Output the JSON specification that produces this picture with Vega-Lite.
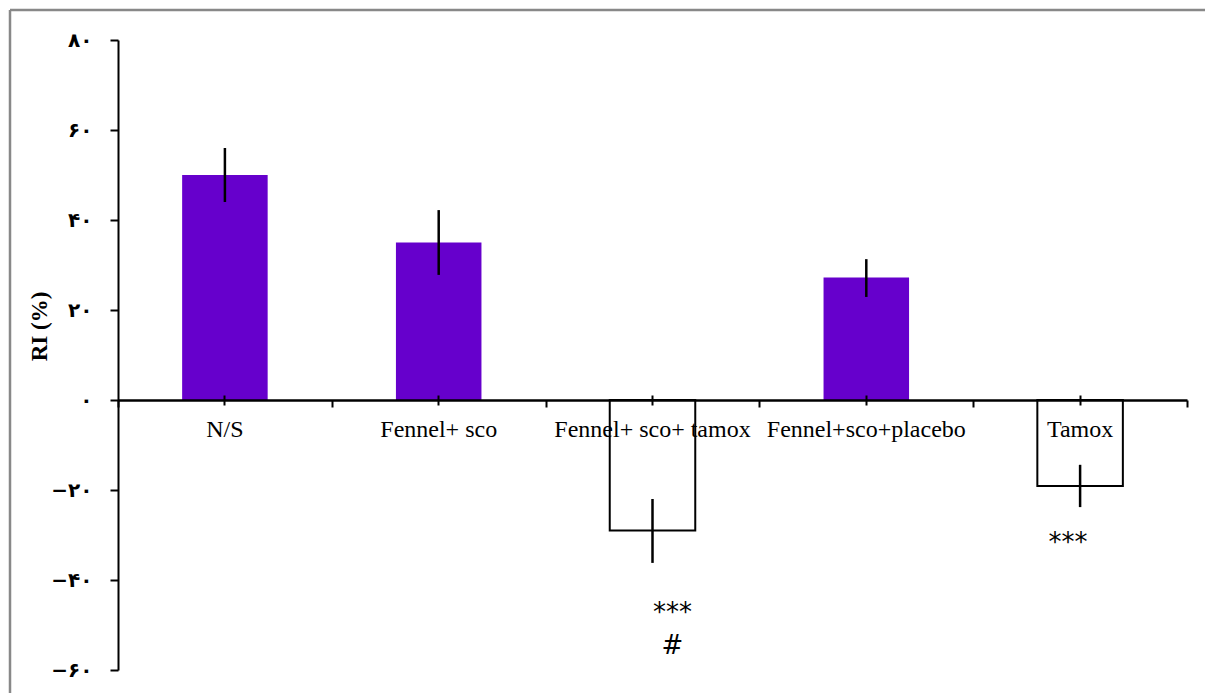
{
  "$schema": "https://vega.github.io/schema/vega-lite/v6.json",
  "width": 1195,
  "height": 683,
  "autosize": {"type": "none"},
  "padding": {"left": 10, "top": 10, "right": 0, "bottom": 0},
  "background": "white",
  "view": {"stroke": "#888888", "strokeWidth": 2.5, "strokeDash": [1195, 1878, 683, 0]},
  "datasets": {
    "bars": [
      {"group": "N/S", "mean": 50, "lo": 44, "hi": 56},
      {"group": "Fennel+ sco", "mean": 35, "lo": 27.8, "hi": 42.2},
      {"group": "Fennel+ sco+ tamox", "mean": -29, "lo": -36.2, "hi": -22},
      {"group": "Fennel+sco+placebo", "mean": 27.2, "lo": 22.9, "hi": 31.3},
      {"group": "Tamox", "mean": -19.1, "lo": -23.8, "hi": -14.4}
    ],
    "notes": [
      {"group": "Fennel+ sco+ tamox", "text": "***", "pos": -49},
      {"group": "Fennel+ sco+ tamox", "text": "#", "pos": -56.5},
      {"group": "Tamox", "text": "***", "pos": -33.6}
    ]
  },
  "resolve": {"axis": {"x": "independent"}},
  "layer": [
    {
      "data": {"name": "bars"},
      "transform": [{"filter": "datum.mean > 0"}],
      "mark": {"type": "bar", "color": "#6600CC", "width": {"band": 0.4}},
      "encoding": {
        "x": {
          "field": "group", "type": "nominal",
          "sort": ["N/S", "Fennel+ sco", "Fennel+ sco+ tamox", "Fennel+sco+placebo", "Tamox"],
          "scale": {"domain": ["N/S", "Fennel+ sco", "Fennel+ sco+ tamox", "Fennel+sco+placebo", "Tamox"], "range": [108, 1177], "paddingInner": 0, "paddingOuter": 0},
          "axis": {
            "orient": "bottom", "offset": -293, "zindex": 1,
            "title": null, "labelAngle": 0, "labelLimit": 0,
            "domain": true, "domainColor": "black", "domainWidth": 2.5,
            "ticks": true, "tickColor": "black", "tickWidth": 2, "tickSize": 5,
            "labelFont": "Liberation Serif", "labelFontSize": 24, "labelColor": "black",
            "labelPadding": 12, "labelBaseline": "top"
          }
        },
        "y": {
          "field": "mean", "type": "quantitative",
          "scale": {"domain": [-60, 80], "range": [660, 30], "nice": false, "zero": false},
          "axis": {
            "orient": "left", "offset": -108, "zindex": 1,
            "values": [-60, -40, -20, 0, 20, 40, 60, 80],
            "grid": false,
            "domainColor": "black", "domainWidth": 2,
            "tickColor": "black", "tickWidth": 2, "tickSize": 8,
            "labelFont": "DejaVu Sans", "labelFontSize": 20, "labelFontWeight": "bold",
            "labelColor": "black", "labelPadding": 18,
            "labelExpr": "replace(replace(replace(replace(replace(replace(datum.label, '0', '۰'), '2', '۲'), '4', '۴'), '6', '۶'), '8', '۸'), '-', '−')",
            "title": "RI (%)", "titleFont": "Liberation Serif", "titleFontSize": 23,
            "titleFontWeight": "bold", "titleColor": "black", "titlePadding": -1, "titleY": 316
          }
        }
      }
    },
    {
      "data": {"name": "bars"},
      "transform": [{"filter": "datum.mean < 0"}],
      "mark": {"type": "bar", "fill": "white", "stroke": "black", "strokeWidth": 2, "width": {"band": 0.4}},
      "encoding": {
        "x": {
          "field": "group", "type": "nominal",
          "sort": ["N/S", "Fennel+ sco", "Fennel+ sco+ tamox", "Fennel+sco+placebo", "Tamox"],
          "axis": {
            "orient": "bottom", "offset": -293, "zindex": 1,
            "title": null, "labels": false, "domain": false,
            "ticks": true, "tickBand": "extent", "tickColor": "black", "tickWidth": 2, "tickSize": 7
          }
        },
        "y": {"field": "mean", "type": "quantitative"}
      }
    },
    {
      "data": {"name": "bars"},
      "mark": {"type": "rule", "color": "black", "strokeWidth": 2.5},
      "encoding": {
        "x": {
          "field": "group", "type": "nominal",
          "sort": ["N/S", "Fennel+ sco", "Fennel+ sco+ tamox", "Fennel+sco+placebo", "Tamox"],
          "axis": {
            "orient": "top", "offset": -390, "zindex": 1,
            "title": null, "labels": false, "domain": false,
            "ticks": true, "tickColor": "black", "tickWidth": 2, "tickSize": 5
          }
        },
        "y": {"field": "lo", "type": "quantitative"},
        "y2": {"field": "hi"}
      }
    },
    {
      "data": {"name": "notes"},
      "transform": [{"filter": "datum.group == 'Fennel+ sco+ tamox'"}],
      "mark": {"type": "text", "font": "DejaVu Sans", "fontSize": 26, "color": "black", "dx": 20, "baseline": "alphabetic"},
      "encoding": {
        "x": {"field": "group", "type": "nominal", "sort": ["N/S", "Fennel+ sco", "Fennel+ sco+ tamox", "Fennel+sco+placebo", "Tamox"], "axis": null},
        "y": {"field": "pos", "type": "quantitative"},
        "text": {"field": "text"}
      }
    },
    {
      "data": {"name": "notes"},
      "transform": [{"filter": "datum.group == 'Tamox'"}],
      "mark": {"type": "text", "font": "DejaVu Sans", "fontSize": 26, "color": "black", "dx": -12, "baseline": "alphabetic"},
      "encoding": {
        "x": {"field": "group", "type": "nominal", "sort": ["N/S", "Fennel+ sco", "Fennel+ sco+ tamox", "Fennel+sco+placebo", "Tamox"], "axis": null},
        "y": {"field": "pos", "type": "quantitative"},
        "text": {"field": "text"}
      }
    }
  ]
}
